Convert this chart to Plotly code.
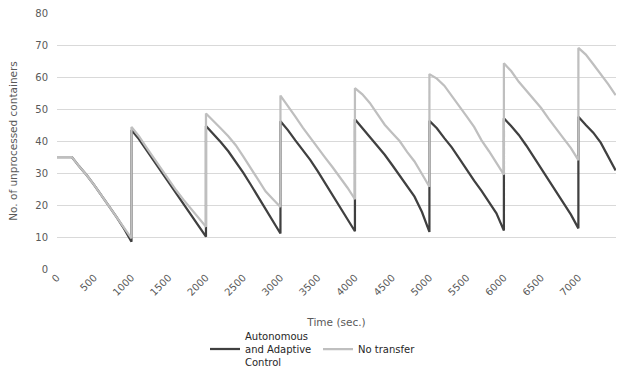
import plotly.graph_objects as go

# time stamps (s); each cycle boundary appears twice (drop then refill)
time_s = [
    0, 100, 200, 300, 400, 500, 600, 700, 800, 900, 1000,
    1000, 1100, 1200, 1300, 1400, 1500, 1600, 1700, 1800, 1900, 2000,
    2000, 2100, 2200, 2300, 2400, 2500, 2600, 2700, 2800, 2900, 3000,
    3000, 3100, 3200, 3300, 3400, 3500, 3600, 3700, 3800, 3900, 4000,
    4000, 4100, 4200, 4300, 4400, 4500, 4600, 4700, 4800, 4900, 5000,
    5000, 5100, 5200, 5300, 5400, 5500, 5600, 5700, 5800, 5900, 6000,
    6000, 6100, 6200, 6300, 6400, 6500, 6600, 6700, 6800, 6900, 7000,
    7000, 7100, 7200, 7300, 7400, 7500,
]

adaptive = [
    35, 35, 35, 32, 29.3, 26.2, 23, 19.6, 16.2, 12.6, 8.5,
    43.4, 40.6, 37.2, 33.8, 30.4, 26.9, 23.4, 20.1, 16.8, 13.6, 10.1,
    44.7, 42.3, 39.6, 36.8, 33.5, 30.1, 26.4, 22.6, 18.6, 14.8, 11.1,
    46.2, 43.4, 40.2, 37.2, 34.1, 30.6, 26.8, 23.2, 19.6, 15.7, 11.8,
    46.8, 44.0, 41.2, 38.6, 35.7, 32.5, 29.3, 25.8, 22.6, 17.8, 11.6,
    46.3, 44.0, 40.9, 38.0, 34.6, 31.0, 27.6, 24.4, 21.0, 17.4, 12.0,
    47.1, 44.6, 41.9, 38.6, 35.0, 31.5, 27.8, 24.0, 20.6, 17.0, 12.7,
    47.6, 45.0, 42.6, 39.5, 35.2, 30.8,
]

no_transfer = [
    35, 35, 35, 32, 29.3, 26.2, 23, 19.6, 16.2, 12.8, 9.6,
    44.4, 41.5, 38.0, 34.6, 31.2, 27.8, 24.6, 21.6, 18.7, 15.9, 13.2,
    48.6, 46.4, 43.9, 41.5, 38.7, 35.2, 31.5, 27.8, 24.3, 21.8, 19.4,
    54.2, 51.0, 47.6, 44.2, 41.0, 37.9, 34.8, 31.8, 28.6, 25.4, 21.8,
    56.5, 54.6, 51.9, 48.5, 45.1, 42.5, 40.0, 36.6, 33.6, 29.7, 25.7,
    60.9, 59.5, 57.3, 54.2, 51.0, 47.7, 44.4, 40.2, 36.8, 33.2, 29.5,
    64.3, 61.8, 58.5, 55.8, 53.0, 50.3, 47.0, 43.8, 40.8, 37.8, 34.0,
    69.1, 67.0, 64.0, 60.9, 57.8, 54.3,
]

x_ticks = list(range(0, 7001, 500))
y_ticks = list(range(0, 81, 10))

FONT = "DejaVu Sans"

fig = go.Figure()
fig.add_trace(go.Scatter(
    x=time_s, y=adaptive, mode="lines",
    name="Autonomous<br>and Adaptive<br>Control",
    line=dict(color="#404040", width=2.25),
    legend="legend",
))
fig.add_trace(go.Scatter(
    x=time_s, y=no_transfer, mode="lines",
    name="No transfer",
    line=dict(color="#bfbfbf", width=2.25),
    legend="legend2",
))

legend_font = dict(family=FONT, size=10, color="#262626")

fig.update_layout(
    width=618, height=369,
    margin=dict(l=57, r=2, t=13, b=100, autoexpand=False),
    paper_bgcolor="white", plot_bgcolor="white",
    font=dict(family=FONT, size=10, color="#595959"),
    showlegend=True,
    legend=dict(
        orientation="h", x=(205 - 57) / 559, xanchor="left",
        y=(269 - 349) / 256, yanchor="middle",
        font=legend_font, itemwidth=30, bgcolor="rgba(0,0,0,0)",
    ),
    legend2=dict(
        orientation="h", x=(318 - 57) / 559, xanchor="left",
        y=(269 - 349) / 256, yanchor="middle",
        font=legend_font, itemwidth=30, bgcolor="rgba(0,0,0,0)",
    ),
    xaxis=dict(
        range=[0, 7505], tickvals=x_ticks, ticktext=[str(v) for v in x_ticks],
        tickangle=-45, showgrid=False, zeroline=False, showline=False,
        ticks="", tickfont=dict(size=10, color="#595959"), automargin=False,
        title=dict(text="Time (sec.)", standoff=21,
                   font=dict(size=10.5, color="#595959")),
    ),
    yaxis=dict(
        range=[0, 80], tickvals=y_ticks, showgrid=True, gridcolor="#d9d9d9",
        gridwidth=1, zeroline=False, showline=False, ticks="",
        tickfont=dict(size=10, color="#595959"), ticklabelstandoff=8,
        automargin=False,
        title=dict(text="No. of unprocessed containers", standoff=15,
                   font=dict(size=10.5, color="#595959")),
    ),
)

fig.write_html("out.html", config={"displayModeBar": False},
               post_script="document.body.style.margin='0';")
